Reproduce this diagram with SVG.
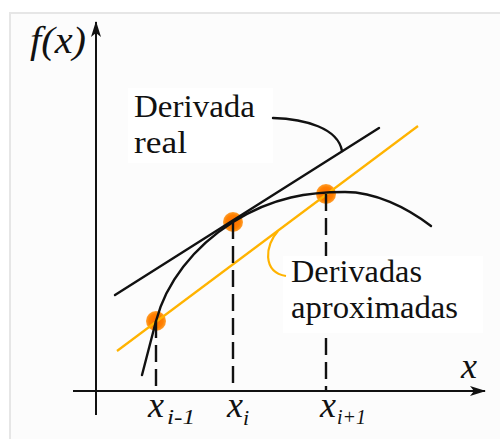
<svg xmlns="http://www.w3.org/2000/svg" width="500" height="439" viewBox="0 0 500 439">
<style>
.ax{stroke:#111;stroke-width:2;fill:none}
.blk{stroke:#111;stroke-width:2.4;fill:none;stroke-linecap:round}
.org{stroke:#FFB300;stroke-width:2.2;fill:none}
.dash{stroke:#111;stroke-width:2.4;fill:none;stroke-dasharray:17 7}
.lbl{font-size:31px;fill:#111}
.mth{font-style:italic;fill:#111}
.box{fill:#ffffff}
.dot{fill:url(#dg)}
.sf{font-family:"Liberation Serif","Noto Serif","DejaVu Serif",FreeSerif,Tinos,"Times New Roman",Times,Georgia,serif}
</style>
<defs>
<radialGradient id="dg">
<stop offset="0" stop-color="#ff6a00"/>
<stop offset="0.7" stop-color="#ff8000"/>
<stop offset="1" stop-color="#ffa030"/>
</radialGradient>
<marker id="ah" viewBox="0 0 16 10" refX="15" refY="5" markerWidth="16" markerHeight="10" markerUnits="userSpaceOnUse" orient="auto">
<path d="M0,0 L16,5 L0,10 L4,5 Z" fill="#111"/>
</marker>
</defs>
<rect x="0" y="0" width="500" height="439" fill="#ffffff"/>
<rect x="10" y="13" width="492" height="428" fill="#fcfcfc" stroke="#e6e6e6" stroke-width="2"/>
<g id="points">
<circle class="dot" cx="156" cy="321" r="10"/>
<circle class="dot" cx="233" cy="222" r="10"/>
<circle class="dot" cx="326" cy="194" r="10"/>
</g>
<g id="axes">
<line class="ax" x1="96" y1="415" x2="96" y2="22" marker-end="url(#ah)"/>
<line class="ax" x1="73" y1="391" x2="485" y2="391" marker-end="url(#ah)"/>
</g>
<g id="lines">
<line class="org" x1="117" y1="351" x2="418" y2="126"/>
<line class="blk" x1="115" y1="295" x2="379" y2="128"/>
<path class="blk" d="M142,375 L156,321 C166,283 193,247.3 233,222 C273,196.7 310,192 345,192 C375,192 406,207 431,226"/>
</g>
<g id="dashes">
<line class="dash" x1="156" y1="321" x2="156" y2="391"/>
<line class="dash" x1="233" y1="222" x2="233" y2="391"/>
<line class="dash" x1="326" y1="194" x2="326" y2="391"/>
</g>
<g id="label-real" class="sf">
<rect class="box" x="128" y="88" width="145" height="75"/>
<text class="lbl sf" x="134" y="117" textLength="121" lengthAdjust="spacingAndGlyphs">Derivada</text>
<text class="lbl sf" x="134" y="153" textLength="53" lengthAdjust="spacingAndGlyphs">real</text>
</g>
<g id="label-aprox" class="sf">
<rect class="box" x="283" y="256" width="200" height="77"/>
<text class="lbl sf" x="291" y="282" textLength="131" lengthAdjust="spacingAndGlyphs">Derivadas</text>
<text class="lbl sf" x="291" y="318" textLength="167" lengthAdjust="spacingAndGlyphs">aproximadas</text>
</g>
<g id="leaders">
<path class="blk" d="M273,118 C305,119 338,128 342,151"/>
<path class="org" d="M278,231 C265,245 262,272 286,276"/>
</g>
<g id="axis-labels" class="sf">
<text class="mth sf" x="30" y="53" font-size="38" textLength="56" lengthAdjust="spacingAndGlyphs">f(x)</text>
<text class="mth sf" x="461" y="378" font-size="36">x</text>
<text class="mth sf" x="148" y="417" font-size="36">x</text>
<text class="mth sf" x="167" y="424" font-size="22" textLength="28" lengthAdjust="spacingAndGlyphs">i-1</text>
<text class="mth sf" x="227" y="417" font-size="36">x</text>
<text class="mth sf" x="243" y="425" font-size="22">i</text>
<text class="mth sf" x="320" y="417" font-size="36">x</text>
<text class="mth sf" x="337" y="424" font-size="22" textLength="29" lengthAdjust="spacingAndGlyphs">i+1</text>
</g>
</svg>
